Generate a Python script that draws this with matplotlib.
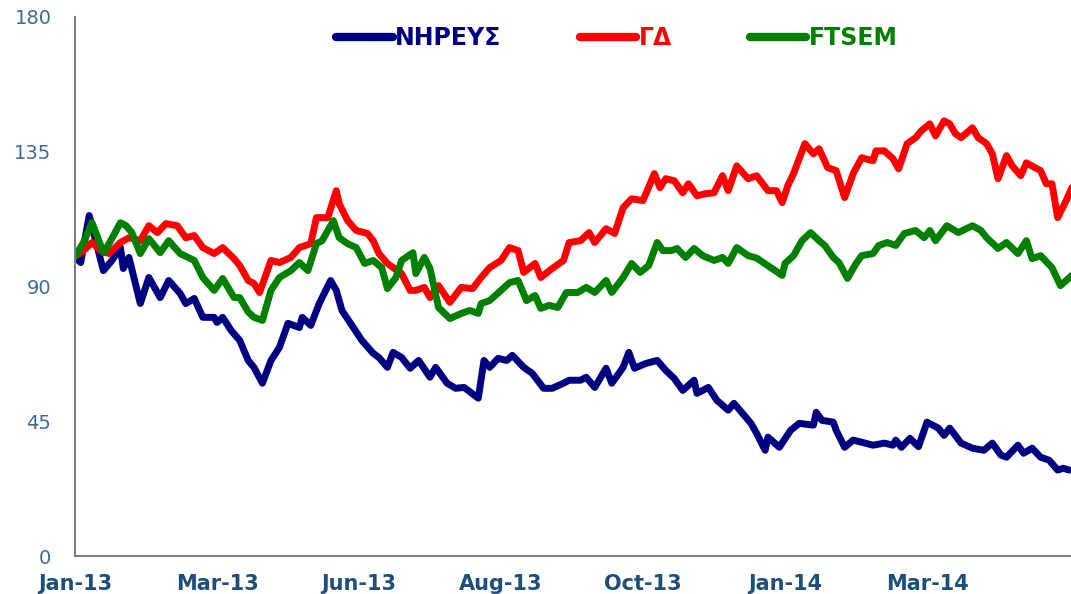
import numpy as np
import matplotlib.pyplot as plt

# trading-day index (x) and index level (y)
nireus_day = [0, 2, 5, 10, 13, 16, 17, 19, 23, 26, 30, 33, 37, 39, 42, 45, 49, 50, 52, 55,
              58, 61, 63, 66, 69, 72, 75, 79, 80, 83, 86, 90, 92, 94, 98, 101, 105, 107, 110, 112,
              115, 118, 121, 125, 127, 131, 134, 137, 142, 144, 146, 149, 152, 154, 158, 161, 165, 168, 172, 174,
              178, 180, 183, 187, 189, 193, 195, 197, 201, 205, 208, 211, 214, 218, 219, 223, 226, 230, 232, 235,
              238, 240, 243, 244, 248, 252, 255, 260, 261, 263, 267, 268, 271, 274, 277, 281, 285, 288, 289, 291,
              294, 297, 300, 304, 306, 308, 312, 316, 320, 323, 326, 328, 332, 334, 337, 340, 343, 346, 348, 350]
nireus = [100, 98, 113.7, 95.3, 98.7, 103, 96, 99.7, 84.3, 93, 86.3, 92, 87.7, 84.3, 86, 79.7, 79.7, 78, 79.7, 75.3,
          72, 65.3, 63, 57.7, 65.3, 69.7, 77.7, 76.3, 79.7, 77, 84.3, 92, 88.7, 82, 76.3, 72, 67.7, 66.3, 63, 68,
          66.3, 62.7, 65.3, 59.7, 63, 57.7, 56, 56.3, 52.7, 65.3, 63, 66, 65.3, 67, 63, 61, 56, 56, 57.7, 58.7,
          58.7, 59.7, 56.3, 62.7, 57.7, 63, 68, 62.7, 64.3, 65.3, 62, 59.3, 55.3, 58.7, 54.3, 56.3, 52, 48.7, 51, 47.7,
          44.3, 41, 35.3, 39.7, 36.3, 42, 44.3, 43.7, 48, 45.3, 44.7, 42, 36.3, 38.7, 38, 37, 37.7, 37, 38.7, 36.3,
          39.3, 36.5, 44.7, 42.7, 40.3, 42.7, 37.7, 36, 35.3, 37.7, 33.7, 33, 37, 34.3, 36, 33, 32, 28.7, 29.3, 28.7]

gd_day = [0, 3, 6, 9, 12, 16, 19, 23, 26, 29, 32, 36, 39, 42, 45, 49, 52, 56, 58, 61,
          63, 65, 69, 72, 76, 79, 83, 85, 89, 92, 93, 96, 99, 103, 105, 107, 110, 112, 115, 118,
          120, 123, 125, 128, 132, 136, 140, 143, 146, 150, 153, 156, 158, 162, 164, 168, 172, 174, 178, 181,
          183, 187, 190, 193, 196, 200, 204, 206, 208, 211, 214, 216, 219, 222, 225, 228, 230, 233, 237, 240,
          244, 247, 249, 251, 253, 257, 260, 262, 265, 268, 271, 274, 277, 281, 282, 285, 288, 290, 293, 296,
          298, 301, 303, 306, 308, 310, 312, 316, 318, 321, 323, 325, 328, 330, 333, 335, 338, 340, 342, 344,
          346, 349, 351]
gd = [100, 102, 104.7, 102, 101, 104.7, 106.3, 105.3, 110.3, 108, 111, 110.3, 106.3, 107, 103, 101, 103, 99.3, 97, 92,
      91, 88, 98.7, 98, 99.7, 103, 104.3, 113, 113, 122, 117.7, 112, 108.7, 107.7, 105.3, 101, 97.7, 96.3, 94.3, 88.7,
      88.7, 89.7, 86.3, 90.3, 84.7, 89.7, 89.3, 93, 96.3, 98.7, 103, 102, 94.7, 97.7, 93, 96, 98.7, 104.7, 105.3, 108,
      104.7, 109.3, 107.7, 116.3, 119.3, 118.7, 127.7, 123, 126, 125.3, 121.3, 124.3, 120.3, 121, 121.3, 127, 122, 130.3, 126, 127,
      122, 122, 118, 123.7, 127.7, 137.7, 134.3, 136, 129.7, 128.7, 119.7, 127.7, 133, 132, 135.3, 135.3, 132.7, 129.3, 137.7, 139.7,
      142, 144.3, 140.3, 145.3, 144.3, 141, 139.7, 143, 139.7, 137.7, 134.3, 126, 133.7, 130.3, 127, 131.3, 129.7, 128.7, 124.3, 124.3,
      113, 118.7, 123]

ftsem_day = [0, 3, 6, 8, 10, 12, 16, 18, 20, 23, 26, 30, 33, 37, 42, 45, 49, 52, 56, 58,
             61, 63, 66, 69, 72, 76, 79, 82, 85, 87, 91, 93, 96, 99, 102, 105, 108, 110, 113, 115,
             119, 120, 123, 125, 128, 132, 136, 139, 142, 143, 146, 150, 153, 156, 159, 162, 164, 167, 170, 173,
             177, 180, 183, 187, 189, 193, 196, 199, 202, 205, 207, 210, 212, 215, 218, 221, 225, 228, 230, 233,
             237, 240, 245, 249, 250, 253, 256, 259, 262, 264, 267, 269, 272, 275, 277, 281, 283, 286, 289, 292,
             296, 299, 301, 303, 307, 311, 316, 319, 321, 325, 328, 332, 335, 337, 340, 344, 347, 349, 351]
ftsem = [100, 104.7, 111.3, 106.3, 101.3, 104.3, 111.3, 110.3, 108, 101, 106, 101.3, 105.3, 101, 98.7, 93, 88.7, 92.7, 86.3, 86.3,
         81.5, 79.7, 78.7, 88.7, 93, 95.3, 98, 95.3, 104.3, 105.3, 112, 106.3, 104.3, 103, 97.7, 98.7, 96.3, 89.3, 93, 98.7,
         101.3, 94.3, 99.7, 96, 83, 79.3, 81, 82, 81, 84.3, 85.3, 88.7, 91.3, 92, 85.3, 87, 82.7, 83.7, 83, 88,
         88, 89.7, 88, 92, 88, 93, 97.7, 94.7, 97, 104.7, 102, 102, 102.7, 99.7, 102.7, 100.3, 98.7, 99.7, 97.7, 103,
         100.3, 99.5, 96.3, 93.7, 97.7, 100.3, 105.3, 108, 105.3, 103.7, 99.7, 98, 92.7, 97.7, 100.3, 101, 103.7, 104.7, 103.7, 107.7,
         108.7, 106.3, 108.7, 105.3, 110.3, 108, 110.3, 108.7, 106.3, 102.7, 104.7, 101, 105.3, 99.3, 100.3, 96.3, 90.3, 92, 93.7]

tick_days = [0, 50, 100, 150, 200, 250, 300]
tick_labels = ['Jan-13', 'Mar-13', 'Jun-13', 'Aug-13', 'Oct-13', 'Jan-14', 'Mar-14']
y_ticks = [0, 45, 90, 135, 180]

fig = plt.figure(figsize=(10.71, 5.94), dpi=100)
ax = fig.add_axes([75 / 1071, 38 / 594, 1 - 75 / 1071, 539 / 594])

lw = 5
ax.plot(nireus_day, nireus, color='#000080', lw=lw, label='ΝΗΡΕΥΣ', solid_joinstyle='round', solid_capstyle='round')
ax.plot(gd_day, gd, color='#FF0000', lw=lw, label='ΓΔ', solid_joinstyle='round', solid_capstyle='round')
ax.plot(ftsem_day, ftsem, color='#008000', lw=lw, label='FTSEM', solid_joinstyle='round', solid_capstyle='round')

ax.set_xlim(0, 350.7)
ax.set_ylim(0, 180)
ax.set_yticks(y_ticks)
ax.set_xticks(tick_days)
ax.set_xticklabels(tick_labels)

for side in ['top', 'right']:
    ax.spines[side].set_visible(False)
for side in ['left', 'bottom']:
    ax.spines[side].set_color('#7f7f7f')
    ax.spines[side].set_linewidth(1.5)

ax.tick_params(axis='y', length=0, pad=17, labelsize=14, labelcolor='#3E6A96')
ax.tick_params(axis='x', length=0, pad=13, labelsize=15, labelcolor='#1F4E79')
for t in ax.get_xticklabels():
    t.set_fontweight('bold')

leg = fig.legend(loc='center', bbox_to_anchor=(617 / 1071, 1 - 38 / 594), ncol=3, frameon=False,
                 handlelength=2.4, handletextpad=0.1, columnspacing=3.3,
                 prop={'size': 17, 'weight': 'bold'}, labelcolor='linecolor')
for line in leg.get_lines():
    line.set_solid_capstyle('round')
    line.set_linewidth(6)

fig.savefig('out.png', dpi=100)
